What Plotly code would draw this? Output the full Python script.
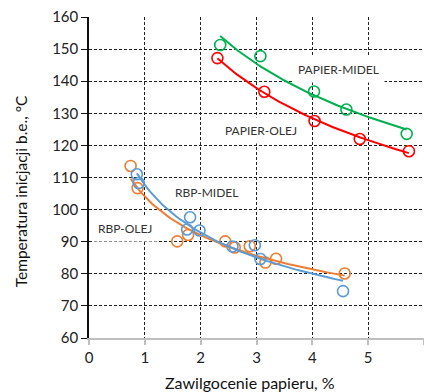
import numpy as np
import plotly.graph_objects as go

# ---- data ----
papier_midel_x = [2.35, 3.07, 4.03, 4.61, 5.69]
papier_midel_y = [151.3, 147.8, 136.8, 131.2, 123.6]

papier_olej_x = [2.30, 3.14, 4.04, 4.85, 5.73]
papier_olej_y = [147.2, 136.7, 127.6, 122.0, 118.2]

rbp_olej_x = [0.745, 0.87, 1.58, 1.775, 2.44, 2.61, 2.88, 3.16, 3.35, 4.58]
rbp_olej_y = [113.6, 106.7, 90.1, 92.1, 90.1, 88.2, 88.6, 83.5, 84.7, 80.1]

rbp_midel_x = [0.857, 0.89, 1.81, 1.757, 1.98, 2.57, 2.97, 3.07, 4.55]
rbp_midel_y = [111.0, 108.3, 97.6, 93.8, 93.5, 88.5, 88.9, 84.6, 74.6]

series = [
    ("PAPIER-MIDEL", papier_midel_x, papier_midel_y, "#00B050"),
    ("PAPIER-OLEJ", papier_olej_x, papier_olej_y, "#FF0000"),
    ("RBP-OLEJ", rbp_olej_x, rbp_olej_y, "#ED7D31"),
    ("RBP-MIDEL", rbp_midel_x, rbp_midel_y, "#5B9BD5"),
]

labels = [
    ("PAPIER-MIDEL", 4.46, 143.6),
    ("PAPIER-OLEJ", 3.08, 124.6),
    ("RBP-MIDEL", 2.10, 105.4),
    ("RBP-OLEJ", 0.64, 94.0),
]

x_ticks = [0, 1, 2, 3, 4, 5, 6]
y_ticks = [60, 70, 80, 90, 100, 110, 120, 130, 140, 150, 160]

fig = go.Figure()

FONT = "Lato"

for name, xs, ys, col in series:
    xa = np.array(xs)
    ya = np.array(ys)
    # power trendline y = a * x^b (least squares in log-log space)
    b, lna = np.polyfit(np.log(xa), np.log(ya), 1)
    xt = np.linspace(xa.min(), xa.max(), 80)
    yt = np.exp(lna) * xt ** b
    fig.add_trace(go.Scatter(x=xt, y=yt, mode="lines",
                             line=dict(color=col, width=2),
                             hoverinfo="skip", showlegend=False))
    fig.add_trace(go.Scatter(x=xs, y=ys, mode="markers", name=name,
                             marker=dict(symbol="circle-open", size=11, color=col,
                                         line=dict(width=1.6, color=col)),
                             showlegend=False))

for text, lx, ly in labels:
    fig.add_annotation(x=lx, y=ly, xref="x", yref="y", text=text, showarrow=False,
                       font=dict(family=FONT, size=12, color="#333333"),
                       bgcolor="white", borderpad=5)

fig.add_annotation(xref="paper", yref="paper", x=0.48, y=-0.104, xanchor="center",
                   yanchor="top", text="Zawilgocenie papieru, %", showarrow=False,
                   font=dict(family=FONT, size=16, color="#111111"))
fig.add_annotation(xref="paper", yref="paper", x=-0.203, y=0.457, xanchor="center",
                   yanchor="middle", textangle=-90,
                   text="Temperatura inicjacji b.e., °C", showarrow=False,
                   font=dict(family=FONT, size=15.5, color="#111111"))

fig.update_layout(
    width=424, height=392,
    margin=dict(l=89, r=0, t=17, b=54),
    paper_bgcolor="white", plot_bgcolor="white",
    showlegend=False,
    font=dict(family=FONT, color="#222222"),
)
fig.update_xaxes(range=[0, 6], tickvals=x_ticks, ticktext=[str(v) for v in x_ticks],
                 showgrid=True, gridcolor="#222222", griddash="3px,2px", gridwidth=1,
                 zeroline=False, showline=True, linecolor="#BFBFBF", linewidth=1.5,
                 ticks="outside", ticklen=5, tickcolor="#BFBFBF", tickwidth=1.5,
                 tickfont=dict(family=FONT, size=15, color="#222222"))
fig.update_yaxes(range=[60, 160], tickvals=y_ticks, ticktext=[str(v) for v in y_ticks],
                 showgrid=True, gridcolor="#222222", griddash="3px,2px", gridwidth=1,
                 zeroline=False, showline=True, linecolor="#111111", linewidth=1.5,
                 ticks="outside", ticklen=6, tickcolor="#111111", tickwidth=1,
                 tickfont=dict(family=FONT, size=15, color="#222222"))

fig.write_html("out.html")
